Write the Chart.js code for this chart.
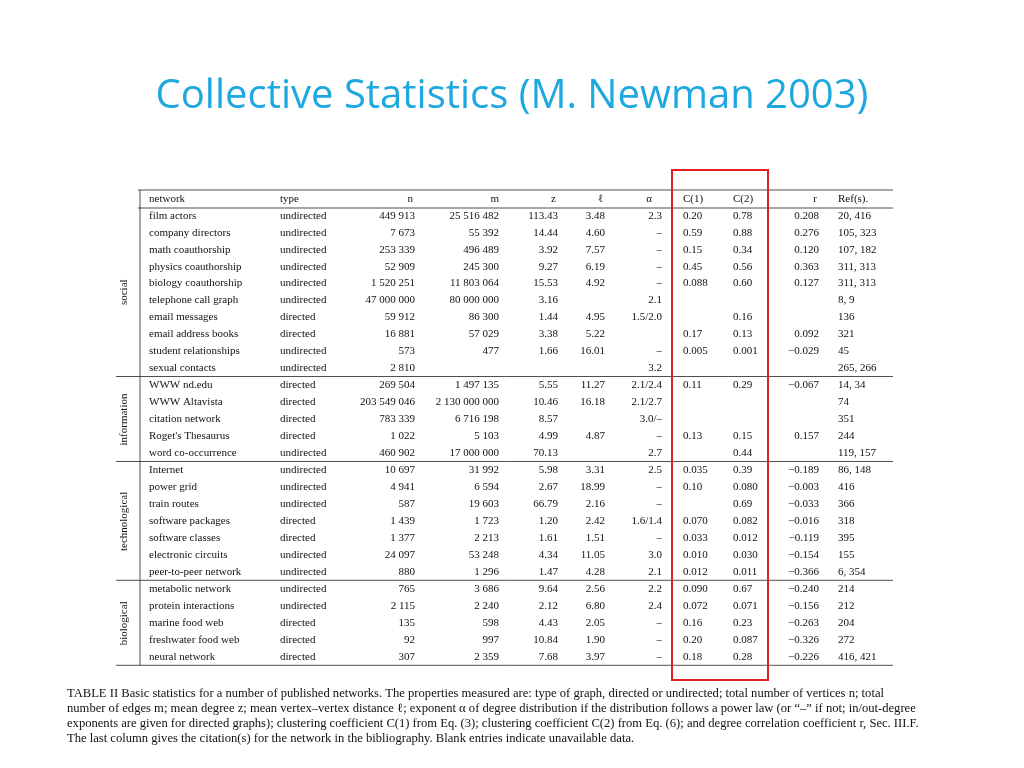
<!DOCTYPE html>
<html><head><meta charset="utf-8">
<script src="https://cdn.jsdelivr.net/npm/chart.js@4/dist/chart.umd.min.js"></script>
<style>html,body{margin:0;padding:0;background:#fff}#w{width:1024px;height:768px}</style>
</head><body><div id="w"><canvas id="c"></canvas></div>
<script>
const title = "Collective Statistics (M. Newman 2003)";
const headers = ["network","type","n","m","z","ℓ","α","C(1)","C(2)","r","Ref(s)."];
const groups = ["social","information","technological","biological"];
const groupSizes = [10,5,7,5];
const networks = ["film actors","company directors","math coauthorship","physics coauthorship","biology coauthorship","telephone call graph","email messages","email address books","student relationships","sexual contacts","WWW nd.edu","WWW Altavista","citation network","Roget's Thesaurus","word co-occurrence","Internet","power grid","train routes","software packages","software classes","electronic circuits","peer-to-peer network","metabolic network","protein interactions","marine food web","freshwater food web","neural network"];
const types = ["undirected","undirected","undirected","undirected","undirected","undirected","directed","directed","undirected","undirected","directed","directed","directed","directed","undirected","undirected","undirected","undirected","directed","directed","undirected","undirected","undirected","undirected","directed","directed","directed"];
const nVals = ["449 913","7 673","253 339","52 909","1 520 251","47 000 000","59 912","16 881","573","2 810","269 504","203 549 046","783 339","1 022","460 902","10 697","4 941","587","1 439","1 377","24 097","880","765","2 115","135","92","307"];
const mVals = ["25 516 482","55 392","496 489","245 300","11 803 064","80 000 000","86 300","57 029","477","","1 497 135","2 130 000 000","6 716 198","5 103","17 000 000","31 992","6 594","19 603","1 723","2 213","53 248","1 296","3 686","2 240","598","997","2 359"];
const zVals = ["113.43","14.44","3.92","9.27","15.53","3.16","1.44","3.38","1.66","","5.55","10.46","8.57","4.99","70.13","5.98","2.67","66.79","1.20","1.61","4.34","1.47","9.64","2.12","4.43","10.84","7.68"];
const lVals = ["3.48","4.60","7.57","6.19","4.92","","4.95","5.22","16.01","","11.27","16.18","","4.87","","3.31","18.99","2.16","2.42","1.51","11.05","4.28","2.56","6.80","2.05","1.90","3.97"];
const alphaVals = ["2.3","–","–","–","–","2.1","1.5/2.0","","–","3.2","2.1/2.4","2.1/2.7","3.0/–","–","2.7","2.5","–","–","1.6/1.4","–","3.0","2.1","2.2","2.4","–","–","–"];
const c1Vals = ["0.20","0.59","0.15","0.45","0.088","","","0.17","0.005","","0.11","","","0.13","","0.035","0.10","","0.070","0.033","0.010","0.012","0.090","0.072","0.16","0.20","0.18"];
const c2Vals = ["0.78","0.88","0.34","0.56","0.60","","0.16","0.13","0.001","","0.29","","","0.15","0.44","0.39","0.080","0.69","0.082","0.012","0.030","0.011","0.67","0.071","0.23","0.087","0.28"];
const rVals = ["0.208","0.276","0.120","0.363","0.127","","","0.092","−0.029","","−0.067","","","0.157","","−0.189","−0.003","−0.033","−0.016","−0.119","−0.154","−0.366","−0.240","−0.156","−0.263","−0.326","−0.226"];
const refs = ["20, 416","105, 323","107, 182","311, 313","311, 313","8, 9","136","321","45","265, 266","14, 34","74","351","244","119, 157","86, 148","416","366","318","395","155","6, 354","214","212","204","272","416, 421"];
const caption = [
"TABLE II Basic statistics for a number of published networks. The properties measured are: type of graph, directed or undirected; total number of vertices n; total",
"number of edges m; mean degree z; mean vertex–vertex distance ℓ; exponent α of degree distribution if the distribution follows a power law (or “–” if not; in/out-degree",
"exponents are given for directed graphs); clustering coefficient C(1) from Eq. (3); clustering coefficient C(2) from Eq. (6); and degree correlation coefficient r, Sec. III.F.",
"The last column gives the citation(s) for the network in the bibliography. Blank entries indicate unavailable data."];

const cols = [
 {arr:networks,x:149,a:'left'},{arr:types,x:280,a:'left'},{arr:nVals,x:415,a:'right'},
 {arr:mVals,x:499,a:'right'},{arr:zVals,x:558,a:'right'},{arr:lVals,x:605,a:'right'},
 {arr:alphaVals,x:662,a:'right'},{arr:c1Vals,x:683,a:'left'},{arr:c2Vals,x:733,a:'left'},
 {arr:rVals,x:819,a:'right'},{arr:refs,x:838,a:'left'}];
const headerX = [149,280,413,499,556,603,652,683,733,817,838];
const headerA = ['left','left','right','right','right','right','right','left','left','right','left'];

const tablePlugin = {id:'tbl', afterDraw(chart){
  const ctx=chart.ctx, X=v=>chart.scales.x.getPixelForValue(v), Y=v=>chart.scales.y.getPixelForValue(v);
  ctx.save();
  ctx.fillStyle='#1ea8e0'; ctx.font='40px "Open Sans", sans-serif'; ctx.textAlign='center'; ctx.textBaseline='middle';
  ctx.fillText(title,X(512),Y(97));
  ctx.fillStyle='#111'; ctx.font='11px "Liberation Serif", serif'; ctx.textBaseline='middle';
  headers.forEach((h,i)=>{ctx.textAlign=headerA[i];ctx.fillText(h,X(headerX[i]),Y(199));});
  ctx.strokeStyle='#222'; ctx.lineWidth=0.8;
  const hl=(y,x0=116,x1=893)=>{ctx.beginPath();ctx.moveTo(X(x0),Y(y));ctx.lineTo(X(x1),Y(y));ctx.stroke();};
  hl(190,138); hl(208,138);
  const rowY=[]; let y=216;
  const bounds=[];
  groups.forEach((g,gi)=>{
    const y0=y-8;
    for(let k=0;k<groupSizes[gi];k++){rowY.push(y); y+=16.9;}
    const y1=y-8.5; bounds.push([y0,y1]);
    hl(y1);
    ctx.save(); ctx.translate(X(124),Y((y0+y1)/2)); ctx.rotate(-Math.PI/2); ctx.textAlign='center'; ctx.fillText(g,0,0); ctx.restore();
    y+=0.5;
  });
  ctx.beginPath();ctx.moveTo(X(140),Y(190));ctx.lineTo(X(140),Y(bounds[3][1]));ctx.stroke();
  cols.forEach(c=>{ctx.textAlign=c.a; c.arr.forEach((v,i)=>ctx.fillText(v,X(c.x),Y(rowY[i])));});
  ctx.strokeStyle='#e02020'; ctx.lineWidth=2; ctx.strokeRect(X(672),Y(170),X(768)-X(672),Y(680)-Y(170));
  ctx.fillStyle='#111'; ctx.font='12.6px "Liberation Serif", serif'; ctx.textAlign='left';
  caption.forEach((l,i)=>ctx.fillText(l,X(67),Y(694+i*15)));
  ctx.restore();
}};

new Chart(document.getElementById('c'),{
  type:'scatter', data:{datasets:[{data:[]}]},
  options:{responsive:true,maintainAspectRatio:false,animation:false,
    layout:{padding:0},
    plugins:{legend:{display:false},tooltip:{enabled:false}},
    scales:{x:{type:'linear',min:0,max:1024,display:false},y:{type:'linear',min:0,max:768,reverse:true,display:false}}},
  plugins:[tablePlugin]});
</script></body></html>
